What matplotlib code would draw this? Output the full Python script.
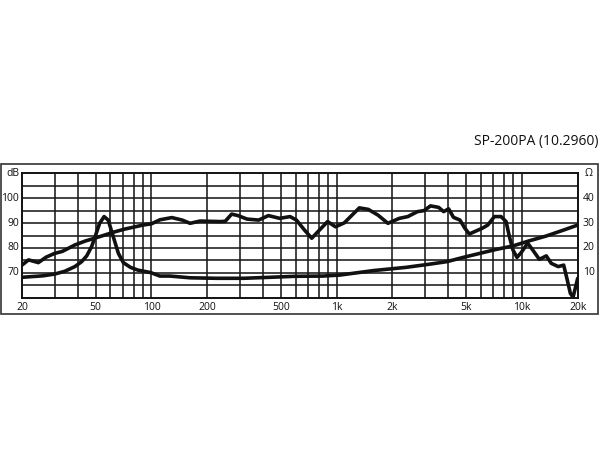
import matplotlib
matplotlib.use("Agg")
import matplotlib.pyplot as plt
from matplotlib.patches import Rectangle
from matplotlib.ticker import NullLocator

plt.rcParams['font.family'] = ['Open Sans', 'DejaVu Sans']

title = "SP-200PA (10.2960)"

# Frequency response (dB SPL)
spl_freq = [20, 21.7, 24.5, 27, 30, 33, 38.6, 44, 49.3, 56, 63.5, 72, 81.7, 90, 100, 111,
            128.8, 146.5, 161.6, 182.8, 234.6, 250, 271, 293, 328, 379, 428, 492, 560, 606,
            670, 733, 777, 893, 985, 1100, 1210, 1325, 1480, 1670, 1890, 2180, 2420, 2730,
            2960, 3210, 3550, 3780, 4020, 4270, 4630, 4920, 5200, 5530, 6100, 6540, 7100,
            7710, 8210, 8560, 8940, 9400, 9900, 10740, 11430, 12420, 13530, 14400, 15700,
            16800, 17480, 18250, 18870, 19410, 20000]
spl_db = [73.1, 75.2, 74.1, 76.3, 77.8, 78.6, 81.2, 82.8, 83.9, 85.2, 86.5, 87.6, 88.5, 89.2,
          89.7, 91.3, 92.2, 91.2, 89.9, 90.8, 90.6, 90.7, 93.6, 93.0, 91.6, 91.2, 93.0, 91.9,
          92.6, 91.2, 87.2, 83.9, 85.9, 90.6, 88.5, 90.1, 93.2, 96.1, 95.5, 93.2, 89.9, 91.9,
          92.6, 94.6, 95.0, 96.9, 96.3, 94.6, 95.7, 92.3, 91.2, 87.9, 85.6, 86.5, 87.9, 89.2,
          92.6, 92.6, 90.6, 84.5, 79.2, 76.2, 78.1, 81.9, 79.2, 75.4, 76.8, 73.8, 72.5, 73.1,
          67.8, 61.8, 60.2, 63.8, 67.8]

# Impedance (Ohm)
imp_freq = [20, 26, 30, 34, 38.6, 42, 44.7, 47.5, 49.3, 52.5, 55.5, 58.4, 62.2, 66.3, 70.5,
            77, 84.4, 99, 111, 126, 161.6, 225, 314, 436, 593, 843, 1040, 1580, 2370, 3190,
            3940, 4820, 5910, 7250, 8940, 11000, 13530, 16800, 20000]
imp_ohm = [8.2, 8.8, 9.5, 10.6, 12.5, 14.5, 16.8, 20.5, 23.9, 29.9, 32.6, 31.2, 24.5, 17.8,
           14.1, 12.2, 11.1, 10.1, 8.7, 8.7, 8.0, 7.8, 7.8, 8.2, 8.6, 8.7, 9.1, 10.9, 12.2,
           13.5, 14.5, 16.2, 17.8, 19.4, 20.8, 22.9, 24.8, 27.2, 29.2]

x_ticks = [20, 50, 100, 200, 500, 1000, 2000, 5000, 10000, 20000]
x_labels = ["20", "50", "100", "200", "500", "1k", "2k", "5k", "10k", "20k"]
db_ticks = [70, 80, 90, 100]
ohm_ticks = [10, 20, 30, 40]

fig = plt.figure(figsize=(6, 4.5), dpi=100)
ax = fig.add_axes([22/600, 1-297.7/450, (577.7-22)/600, (297.7-173.3)/450])
ax.set_xscale('log')
ax.set_xlim(20, 20000)
ax.set_ylim(60, 110)

# grid
minor = []
for dec in [10, 100, 1000, 10000]:
    for m in range(1, 10):
        v = dec * m
        if 20 < v < 20000:
            minor.append(v)
for v in minor:
    ax.axvline(v, color='#1a1a1a', lw=1.15, zorder=1)
for v in range(65, 110, 5):
    ax.axhline(v, color='#1a1a1a', lw=1.15, zorder=1)

ax.plot(spl_freq, spl_db, color='#111111', lw=2.6, solid_joinstyle='round',
        solid_capstyle='round', zorder=3)
ax.plot(imp_freq, [o + 60 for o in imp_ohm], color='#111111', lw=2.6,
        solid_joinstyle='round', solid_capstyle='round', zorder=3)

ax.xaxis.set_major_locator(NullLocator())
ax.xaxis.set_minor_locator(NullLocator())
ax.yaxis.set_major_locator(NullLocator())
for s in ax.spines.values():
    s.set_linewidth(1.4)
    s.set_color('#111111')

fs = 7.5
for xv, lab in zip(x_ticks, x_labels):
    ax.text(xv, -0.075, lab, transform=ax.get_xaxis_transform(), ha='center', va='center',
            fontsize=fs, color='#111111')
for yv in db_ticks:
    ax.text(-0.005, yv, str(yv), transform=ax.get_yaxis_transform(), ha='right', va='center',
            fontsize=fs, color='#111111')
ax.text(-0.005, 110, "dB", transform=ax.get_yaxis_transform(), ha='right', va='center',
        fontsize=fs, color='#111111')
for ov in ohm_ticks:
    ax.text(1.009, ov + 60, str(ov), transform=ax.get_yaxis_transform(), ha='left',
            va='center', fontsize=fs, color='#111111')
ax.text(1.012, 110, "Ω", transform=ax.get_yaxis_transform(), ha='left', va='center',
        fontsize=fs, color='#111111')

# outer frame
fig.patches.append(Rectangle((1/600, 1-314/450), 597/600, 150/450, transform=fig.transFigure,
                             fill=False, edgecolor='#333333', lw=1.2))

fig.text(598/600, 1-142/450, title, ha='right', va='center', fontsize=10, color='#111111')

fig.savefig("out.png", dpi=100)
